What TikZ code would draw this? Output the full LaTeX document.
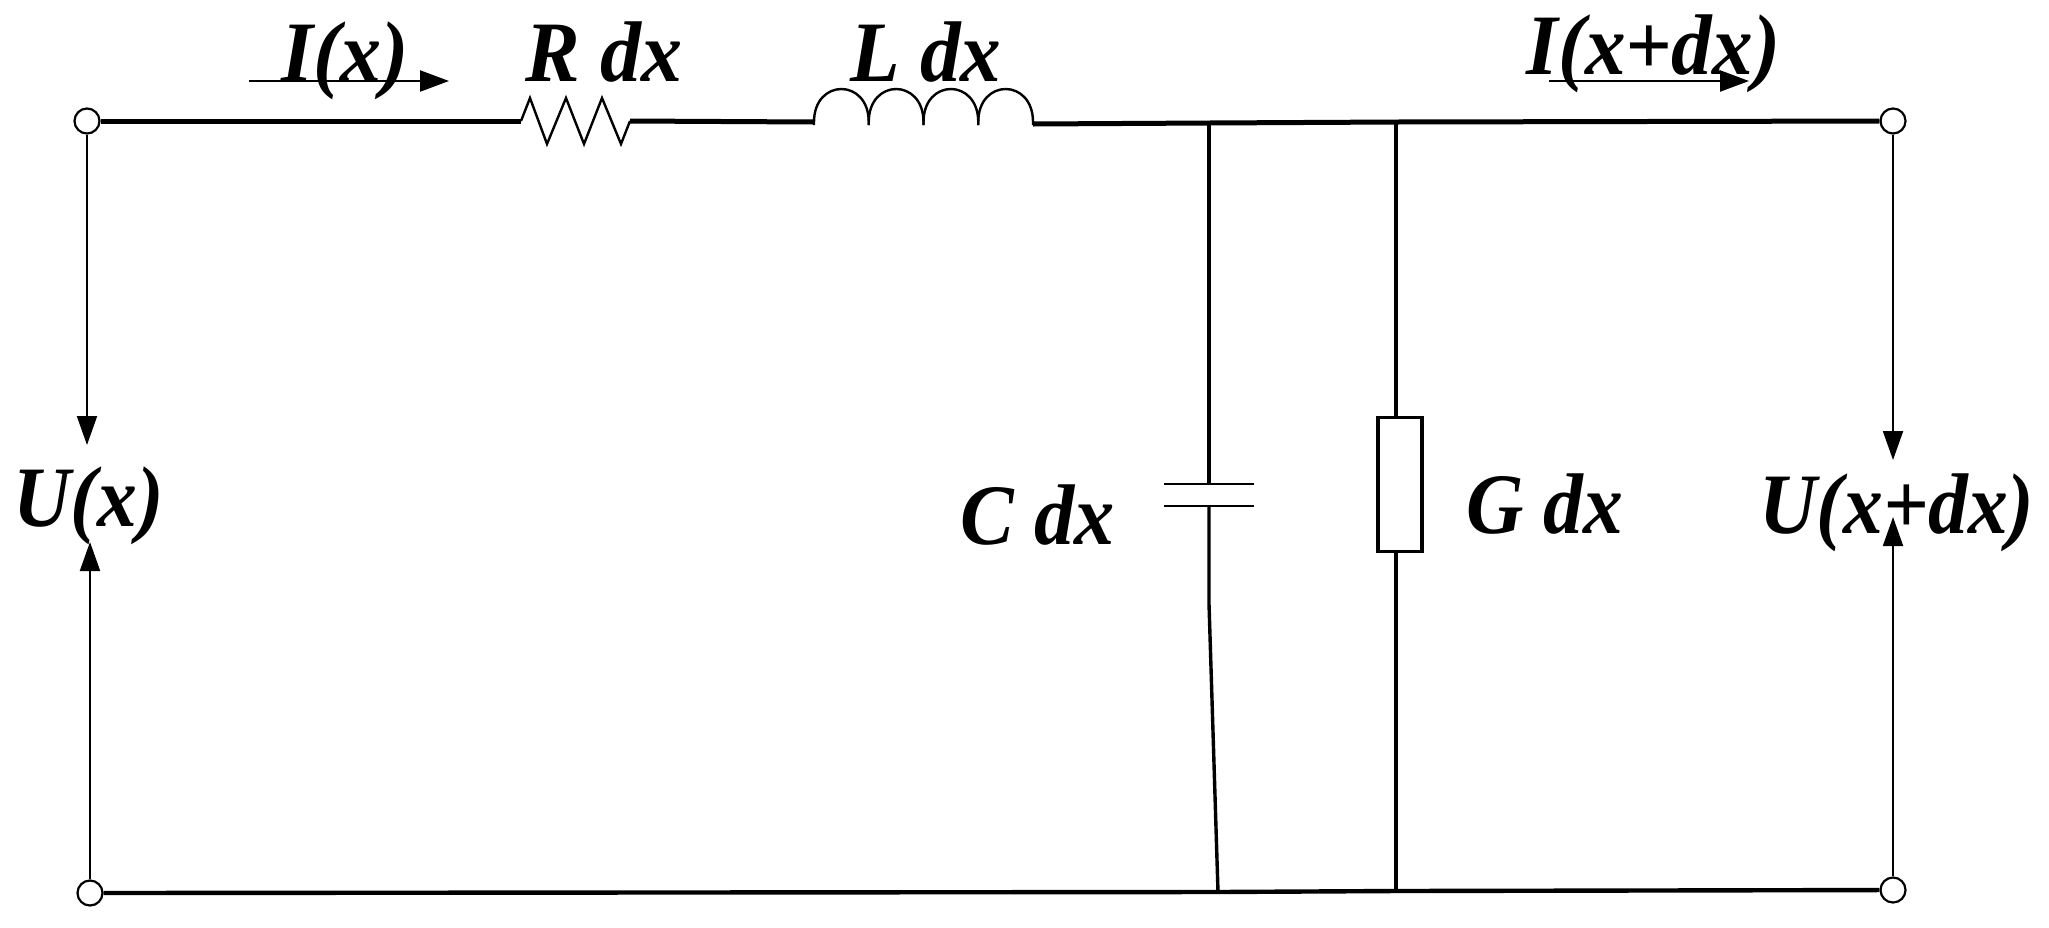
\documentclass[tikz,border=0pt]{standalone}
\usepackage{fontspec}
\usepackage{graphicx}
\setmainfont{Liberation Serif}
\usetikzlibrary{arrows.meta}
\newcommand{\lbltxt}[2][1]{\scalebox{#1}[1.05]{#2}}
\tikzset{
  x=0.5pt,y=-0.5pt,
  terminal/.style={circle,draw,fill=white,line width=1.1pt,minimum size=12.5pt,inner sep=0pt},
  wire/.style={line width=2.5pt},
  bottomwire/.style={line width=2.2pt},
  branch/.style={line width=1.7pt},
  thincomp/.style={line width=1.2pt,line join=miter},
  plate/.style={line width=1.2pt},
  volt/.style={line width=1pt,-{Triangle[length=14.5pt,width=10pt]}},
  curr/.style={line width=1.1pt,-{Triangle[length=14.5pt,width=10.5pt]}},
  lab/.style={anchor=base west,inner sep=0pt,font=\fontsize{41}{41}\selectfont\bfseries\itshape},
  cond/.style={rectangle,draw,line width=1.8pt,minimum width=22pt,minimum height=67pt,inner sep=0pt}
}
\begin{document}
\begin{tikzpicture}
\useasboundingbox (0,0) rectangle (2049,927);
% terminals
\node[terminal] (tl) at (87,121) {};
\node[terminal] (tr) at (1893,121) {};
\node[terminal] (bl) at (90,893) {};
\node[terminal] (br) at (1893,890) {};
% series wire points
\coordinate (r1) at (521,121);
\coordinate (r2) at (630,121);
\coordinate (l1) at (814,122);
\coordinate (l2) at (1033,124);
\coordinate (jc) at (1209,123);
\coordinate (jg) at (1396,122);
\coordinate (bc) at (1218,892);
\coordinate (bg) at (1396,891);
\draw[wire] (tl) -- (r1);
\draw[wire] (r2) -- (l1);
\draw[wire] (l2) -- (jc) -- (jg) -- (tr);
\draw[bottomwire] (bl) -- (bc) -- (bg) -- (br);
% resistor
\draw[thincomp] (r1) -- (530,98) -- (547,144) -- (566,98) -- (584,144) -- (602,98) -- (621,144) -- (r2);
% inductor
\foreach \a in {814,868.75,923.5,978.25}
  \draw[thincomp] (\a,125) -- (\a,122) .. controls (\a,78) and ({\a+54.75},78) .. ({\a+54.75},122) -- ({\a+54.75},125);
% capacitor
\coordinate (cp1) at (1209,484);
\coordinate (cp2) at (1209,506);
\coordinate (cm) at (1209,604);
\draw[plate] (1164,484) -- (1254,484);
\draw[plate] (1164,506) -- (1254,506);
\draw[branch] (jc) -- (cp1);
\draw[branch] (cp2) -- (cm) -- (bc);
% conductance
\node[cond] (g) at (1400,484.5) {};
\coordinate (gt) at (1396,417);
\coordinate (gb) at (1396,552);
\draw[branch] (jg) -- (gt);
\draw[branch] (gb) -- (bg);
% voltage arrows
\coordinate (ult) at (87,445);
\coordinate (ulb) at (90,542);
\coordinate (urt) at (1893,460);
\coordinate (urb) at (1893,517);
\draw[volt] (tl) -- (ult);
\draw[volt] (bl) -- (ulb);
\draw[volt] (tr) -- (urt);
\draw[volt] (br) -- (urb);
% current arrows
\coordinate (ia) at (249,81);
\coordinate (ib) at (449,81);
\coordinate (ja) at (1549,81);
\coordinate (jb) at (1749,81);
\draw[curr] (ia) -- (ib);
\draw[curr] (ja) -- (jb);
% labels
\node[lab] (lix) at (281,81) {\lbltxt{I(x)}};
\node[lab] (lr) at (525,81) {\lbltxt{R dx}};
\node[lab] (ll) at (850,81) {\lbltxt[.99]{L dx}};
\node[lab] (lixd) at (1526,74) {\lbltxt[.99]{I(x+dx)}};
\node[lab] (lu) at (13,526) {\lbltxt[.97]{U(x)}};
\node[lab] (lc) at (960,544) {\lbltxt[.98]{C dx}};
\node[lab] (lg) at (1466,533) {\lbltxt[.97]{G dx}};
\node[lab] (lud) at (1759,533) {\lbltxt[.97]{U(x+dx)}};
\end{tikzpicture}
\end{document}
